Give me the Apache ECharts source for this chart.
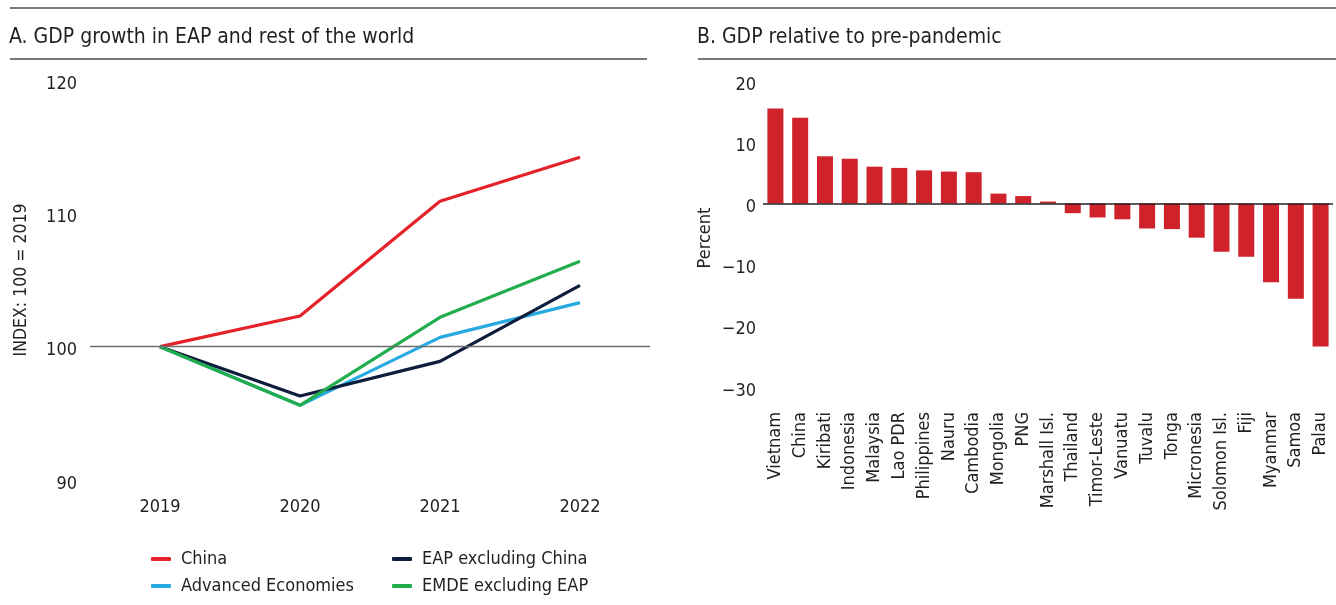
<!DOCTYPE html>
<html>
<head>
<meta charset="utf-8">
<script src="https://cdn.jsdelivr.net/npm/echarts@6/dist/echarts.min.js"></script>
<style>
  html, body { margin: 0; padding: 0; background: #fff; }
  #chart { width: 1336px; height: 605px; }
</style>
</head>
<body>
<div id="chart"></div>
<script>
// panel A: GDP index, 2019 = 100
var years = ["2019", "2020", "2021", "2022"];
var china = [100, 102.3, 110.9, 114.2];
var advanced = [100, 95.6, 100.7, 103.3];
var eapExChina = [100, 96.3, 98.9, 104.6];
var emdeExEap = [100, 95.6, 102.2, 106.4];

// panel B: GDP relative to pre-pandemic, percent
var countries = ["Vietnam", "China", "Kiribati", "Indonesia", "Malaysia", "Lao PDR",
  "Philippines", "Nauru", "Cambodia", "Mongolia", "PNG", "Marshall Isl.", "Thailand",
  "Timor-Leste", "Vanuatu", "Tuvalu", "Tonga", "Micronesia", "Solomon Isl.", "Fiji",
  "Myanmar", "Samoa", "Palau"];
var gdpGap = [15.5, 14.0, 7.7, 7.3, 6.0, 5.8, 5.4, 5.2, 5.1, 1.6, 1.2, 0.3, -1.6,
  -2.3, -2.6, -4.1, -4.2, -5.6, -7.9, -8.7, -12.9, -15.6, -23.4];

var FONT = "'DejaVu Sans Condensed', 'Liberation Sans Narrow', 'Noto Sans', sans-serif";
var TEXT = "#231f20";

var lineColors = {
  china: "#e52129",
  advanced: "#27aae1",
  eap: "#0e1d3c",
  emde: "#21ad4b"
};

function lineSeries(name, data, color) {
  return {
    name: name,
    type: "line",
    xAxisIndex: 0,
    yAxisIndex: 0,
    data: data,
    symbol: "none",
    lineStyle: { color: color, width: 3.2 },
    itemStyle: { color: color },
    animation: false
  };
}

var option = {
  backgroundColor: "#fff",
  textStyle: { fontFamily: FONT, color: TEXT },
  title: [
    {
      text: "A. GDP growth in EAP and rest of the world",
      left: 9, top: 27, padding: 0,
      textStyle: { fontFamily: FONT, fontSize: 21, fontWeight: "normal", color: TEXT }
    },
    {
      text: "B. GDP relative to pre-pandemic",
      left: 697, top: 27, padding: 0,
      textStyle: { fontFamily: FONT, fontSize: 21, fontWeight: "normal", color: TEXT }
    }
  ],
  graphic: [
    { type: "line", shape: { x1: 10, y1: 8, x2: 1336, y2: 8 }, style: { stroke: "#4d4d4d", lineWidth: 1.5 } },
    { type: "line", shape: { x1: 10, y1: 59, x2: 647, y2: 59 }, style: { stroke: "#4d4d4d", lineWidth: 1.5 } },
    { type: "line", shape: { x1: 698, y1: 59, x2: 1336, y2: 59 }, style: { stroke: "#4d4d4d", lineWidth: 1.5 } }
  ],
  legend: [
    {
      data: ["China", "Advanced Economies"],
      orient: "vertical",
      left: 146, top: 545,
      itemGap: 9,
      itemWidth: 20, itemHeight: 4,
      icon: "roundRect",
      textStyle: { fontFamily: FONT, fontSize: 18, color: TEXT, padding: [0, 0, 0, 5] }
    },
    {
      data: ["EAP excluding China", "EMDE excluding EAP"],
      orient: "vertical",
      left: 387, top: 545,
      itemGap: 9,
      itemWidth: 20, itemHeight: 4,
      icon: "roundRect",
      textStyle: { fontFamily: FONT, fontSize: 18, color: TEXT, padding: [0, 0, 0, 5] }
    }
  ],
  grid: [
    { left: 90, right: 686, top: 80, bottom: 125 },
    { left: 763, right: 3, top: 81, bottom: 218 }
  ],
  xAxis: [
    {
      type: "category",
      gridIndex: 0,
      data: years,
      axisLine: { show: false },
      axisTick: { show: false },
      axisLabel: { fontFamily: FONT, fontSize: 18, color: TEXT, margin: 18 }
    },
    {
      type: "category",
      gridIndex: 1,
      data: countries,
      axisLine: { show: false, onZero: false },
      axisTick: { show: false },
      axisLabel: { fontFamily: FONT, fontSize: 18, color: TEXT, rotate: 90, interval: 0, margin: 25 }
    }
  ],
  yAxis: [
    {
      type: "value",
      gridIndex: 0,
      min: 90, max: 120, interval: 10,
      name: "INDEX: 100 = 2019",
      nameLocation: "middle",
      nameGap: 60,
      nameTextStyle: { fontFamily: FONT, fontSize: 17.5, color: TEXT },
      axisLine: { show: false },
      axisTick: { show: false },
      splitLine: { show: false },
      axisLabel: { fontFamily: FONT, fontSize: 18, color: TEXT, margin: 13, verticalAlign: "top", lineHeight: 8 }
    },
    {
      type: "value",
      gridIndex: 1,
      min: -30, max: 20, interval: 10,
      name: "Percent",
      nameLocation: "middle",
      nameGap: 49,
      nameTextStyle: { fontFamily: FONT, fontSize: 18, color: TEXT, padding: [0, 8, 0, 0] },
      axisLine: { show: false },
      axisTick: { show: false },
      splitLine: { show: false },
      axisLabel: {
        fontFamily: FONT, fontSize: 18, color: TEXT, margin: 7, verticalAlign: "top", lineHeight: 8,
        formatter: function (v) { return v < 0 ? "\u2212" + Math.abs(v) : String(v); }
      }
    }
  ],
  series: [
    Object.assign(lineSeries("China", china, lineColors.china), {
      markLine: {
        silent: true,
        symbol: "none",
        label: { show: false },
        lineStyle: { color: "#6d6e71", width: 1.3, type: "solid" },
        data: [{ yAxis: 100 }],
        animation: false
      },
      z: 3
    }),
    lineSeries("Advanced Economies", advanced, lineColors.advanced),
    lineSeries("EAP excluding China", eapExChina, lineColors.eap),
    lineSeries("EMDE excluding EAP", emdeExEap, lineColors.emde),
    {
      name: "GDP relative to pre-pandemic",
      type: "bar",
      xAxisIndex: 1,
      yAxisIndex: 1,
      data: gdpGap,
      barWidth: 16,
      itemStyle: { color: "#d0222a" },
      markLine: {
        silent: true,
        symbol: "none",
        label: { show: false },
        lineStyle: { color: "#231f20", width: 1.5, type: "solid" },
        data: [{ yAxis: 0 }],
        animation: false
      },
      animation: false
    }
  ]
};

var chart = echarts.init(document.getElementById("chart"));
chart.setOption(option);
</script>
</body>
</html>
